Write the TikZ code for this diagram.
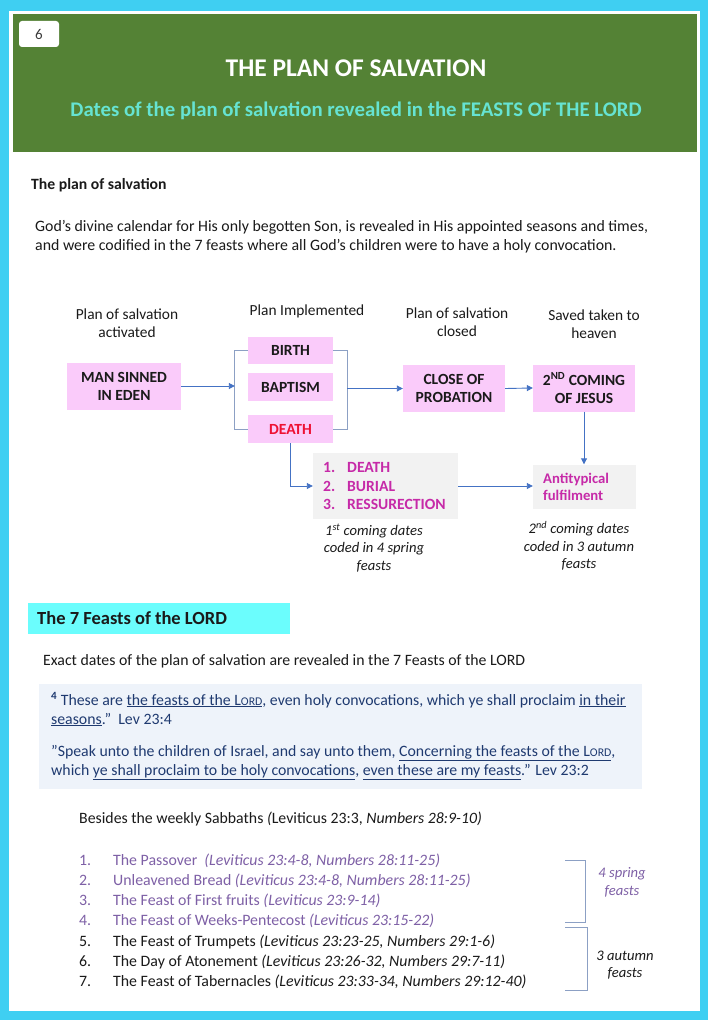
\documentclass[tikz,border=0pt]{standalone}
\usepackage{fontspec}
\setmainfont{Carlito}
\usetikzlibrary{arrows.meta}
\definecolor{framec}{HTML}{3FCFF2}
\definecolor{greenc}{HTML}{548235}
\definecolor{subc}{HTML}{66E3D2}
\definecolor{pinkc}{HTML}{FACBFA}
\definecolor{grayc}{HTML}{F2F2F2}
\definecolor{magc}{HTML}{C62AA8}
\definecolor{redc}{HTML}{EE1133}
\definecolor{cyanbox}{HTML}{6BFDFD}
\definecolor{quotebg}{HTML}{EEF3FA}
\definecolor{quotec}{HTML}{1F3A70}
\definecolor{purpc}{HTML}{7E60A6}
\definecolor{arrc}{HTML}{4472C4}
\definecolor{brkc}{HTML}{8CA0C4}
\definecolor{textc}{HTML}{1A1A1A}
\newcommand\fs[2]{\fontsize{#1}{#2}\selectfont}
\newcommand\smc[1]{{\fs{11.8}{12}#1}}
\begin{document}
\begin{tikzpicture}[x=1pt,y=-1pt,
  pinkbox/.style={fill=pinkc, inner sep=0pt, align=center, text=textc, font=\fs{15.5}{18}\bfseries},
  graybox/.style={fill=grayc, inner sep=0pt},
  lbl/.style={align=center, text=textc, font=\fs{15.4}{18}, inner sep=0pt},
  captxt/.style={align=center, text=textc, font=\fs{14.6}{17.5}\itshape, inner sep=0pt},
  body/.style={anchor=base west, text=textc, font=\fs{15.85}{18}, inner sep=0pt},
  qline/.style={anchor=base west, text=quotec, font=\fs{15.8}{18}, inner sep=0pt},
  arr/.style={draw=arrc, line width=0.9pt, -{Triangle[length=6pt,width=6pt]}},
  brk/.style={draw=brkc, line width=1pt},
]
\useasboundingbox (0,0) rectangle (709,1024);
% frame and header
\fill[framec] (0,0) rectangle (708,1020);
\fill[white] (9,11) rectangle (700,1011);
\fill[greenc] (13,14) rectangle (697,152);
\node[fill=white, rounded corners=3pt, minimum width=40pt, minimum height=26pt, inner sep=0pt, text=textc!85, font=\fs{15}{18}] (num) at (39,34) {6};
\node[text=white, font=\fs{25.5}{28}\bfseries, inner sep=0pt] (title) at (356,68) {THE PLAN OF SALVATION};
\node[text=subc, font=\fs{20.8}{24}\bfseries, inner sep=0pt] (subtitle) at (356,111) {Dates of the plan of salvation revealed in the FEASTS OF THE LORD};
% intro
\node[body, font=\fs{15.7}{18}\bfseries] (h1) at (31,190) {The plan of salvation};
\node[body] (p1) at (35,232) {God’s divine calendar for His only begotten Son, is revealed in His appointed seasons and times,};
\node[body] (p2) at (35,250) {and were codified in the 7 feasts where all God’s children were to have a holy convocation.};
% flowchart labels
\node[lbl] (l1) at (127,323.5) {Plan of salvation\\activated};
\node[lbl] (l2) at (307,311) {Plan Implemented};
\node[lbl] (l3) at (457,322) {Plan of salvation\\closed};
\node[lbl] (l4) at (594,324) {Saved taken to\\heaven};
% boxes
\node[pinkbox, minimum width=114pt, minimum height=47pt] (man) at (124,386) {MAN SINNED\\IN EDEN};
\node[pinkbox, minimum width=85pt, minimum height=27pt] (birth) at (290.5,350.5) {BIRTH};
\node[pinkbox, minimum width=85pt, minimum height=28pt] (baptism) at (290.5,387) {BAPTISM};
\node[pinkbox, minimum width=85pt, minimum height=28pt, text=redc] (death) at (290.5,429) {DEATH};
\node[pinkbox, minimum width=102pt, minimum height=47pt] (close) at (454,388.5) {CLOSE OF\\PROBATION};
\node[pinkbox, minimum width=102pt, minimum height=47pt] (second) at (584,388) {2\textsuperscript{ND} COMING\\OF JESUS};
\node[graybox, minimum width=145pt, minimum height=66pt] (list) at (385.5,486) {};
\node[anchor=west, align=left, inner sep=0pt, text=magc, font=\fs{15.6}{18.5}\bfseries] (listtxt) at (323,486)
  {\makebox[24pt][l]{1.}DEATH\\\makebox[24pt][l]{2.}BURIAL\\\makebox[24pt][l]{3.}RESSURECTION};
\node[graybox, minimum width=103pt, minimum height=44pt] (anti) at (584.5,486.5) {};
\node[anchor=west, align=left, inner sep=0pt, text=magc, font=\fs{14.7}{16.5}\bfseries] (antitxt) at (543,487) {Antitypical\\fulfilment};
% connectors
\draw[brk] (birth.west) -- ++(-13,0) coordinate (bl1) |- (death.west);
\draw[brk] (birth.east) -- ++(14,0) coordinate (br1) |- (death.east);
\draw[arr] (man.east) -- (man.east -| bl1);
\draw[arr] (br1 |- close.west) -- (close.west);
\draw[arr] (close.east) -- (second.west);
\draw[arr] (second.south) -- (second.south |- anti.north);
\draw[arr] (death.south) |- (list.west);
\draw[arr] (list.east) -- (list.east -| anti.west);
% captions
\node[captxt] (c1) at (374,548) {1\textsuperscript{st} coming dates\\coded in 4 spring\\feasts};
\node[captxt] (c2) at (579,546) {2\textsuperscript{nd} coming dates\\coded in 3 autumn\\feasts};
% feasts heading
\node[fill=cyanbox, minimum width=262pt, minimum height=31pt, inner sep=0pt] (fbox) at (159,618.5) {};
\node[anchor=west, inner sep=0pt, text=textc, font=\fs{18.5}{22}\bfseries] (ftitle) at (37,618.5) {The 7 Feasts of the LORD};
\node[body, font=\fs{15.8}{18}] (exact) at (43,665) {Exact dates of the plan of salvation are revealed in the 7 Feasts of the LORD};
% quote box
\node[fill=quotebg, minimum width=603pt, minimum height=105pt, inner sep=0pt] (qbox) at (340.5,736.5) {};
\node[qline] (q1) at (51,705) {\textbf{\textsuperscript{4}} These are \underline{the feasts of the L\smc{ORD}}, even holy convocations, which ye shall proclaim \underline{in their}};
\node[qline] (q2) at (51,724) {\underline{seasons}.”\ \ Lev 23:4};
\node[qline] (q3) at (51,756) {”Speak unto the children of Israel, and say unto them, \underline{Concerning the feasts of the L\smc{ORD}},};
\node[qline] (q4) at (51,775) {which \underline{ye shall proclaim to be holy convocations}, \underline{even these are my feasts}.” Lev 23:2};
% list
\node[body, font=\fs{15.8}{18}] (bes) at (79,823) {Besides the weekly Sabbaths \textit{(}Leviticus 23:3, \textit{Numbers 28:9-10)}};
\begin{scope}[every node/.append style={font=\fs{15.8}{18}}]
\node[body, text=purpc] (n1) at (79,865) {1.};
\node[body, text=purpc] (t1) at (113,865) {The Passover\ \ \textit{(Leviticus 23:4-8, Numbers 28:11-25)}};
\node[body, text=purpc] (n2) at (79,885) {2.};
\node[body, text=purpc] (t2) at (113,885) {Unleavened Bread \textit{(Leviticus 23:4-8, Numbers 28:11-25)}};
\node[body, text=purpc] (n3) at (79,905) {3.};
\node[body, text=purpc] (t3) at (113,905) {The Feast of First fruits \textit{(Leviticus 23:9-14)}};
\node[body, text=purpc] (n4) at (79,925) {4.};
\node[body, text=purpc] (t4) at (113,925) {The Feast of Weeks-Pentecost \textit{(Leviticus 23:15-22)}};
\node[body] (n5) at (79,946) {5.};
\node[body] (t5) at (113,946) {The Feast of Trumpets \textit{(Leviticus 23:23-25, Numbers 29:1-6)}};
\node[body] (n6) at (79,966) {6.};
\node[body] (t6) at (113,966) {The Day of Atonement \textit{(Leviticus 23:26-32, Numbers 29:7-11)}};
\node[body] (n7) at (79,986) {7.};
\node[body] (t7) at (113,986) {The Feast of Tabernacles \textit{(Leviticus 23:33-34, Numbers 29:12-40)}};
\end{scope}
% right brackets
\coordinate (b1a) at (565,860);
\coordinate (b1b) at (565,922);
\coordinate (b2a) at (565,927);
\coordinate (b2b) at (565,990);
\draw[brk] (b1a) -- ++(20,0) |- (b1b);
\draw[brk] (b2a) -- ++(22,0) |- (b2b);
\node[captxt, text=purpc] (s1) at (622,882.5) {4 spring\\feasts};
\node[captxt] (s2) at (625,965) {3 autumn\\feasts};
\end{tikzpicture}
\end{document}
